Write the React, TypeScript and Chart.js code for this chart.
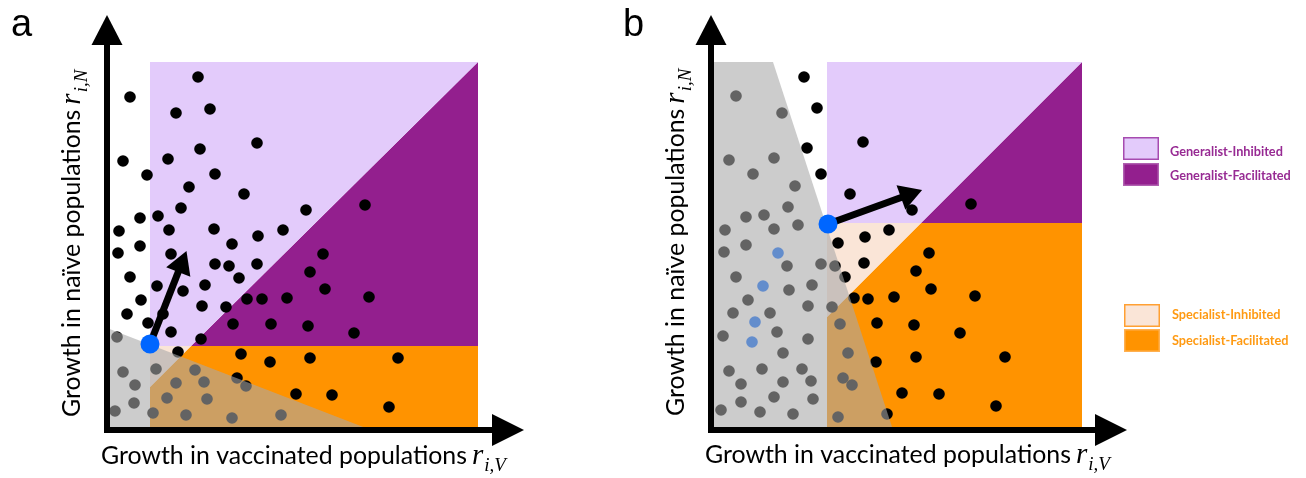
import React, { useEffect, useRef } from "react";
import { Chart, registerables } from "chart.js";

Chart.register(...registerables);

type P = [number, number];

// ---------------- Panel a (arbitrary growth units) ----------------
const A_POINTS: P[] = [
  [91, 353], [23, 333], [103, 321], [69, 317], [150, 287], [93, 281], [16, 269], [61, 271], [40, 255], [108, 256],
  [82, 243], [137, 236], [258, 225], [199, 220], [74, 222], [33, 212], [51, 214], [12, 199], [62, 200], [107, 201],
  [176, 200], [151, 194], [125, 186], [33, 184], [11, 177], [64, 176], [216, 176], [108, 166], [122, 164], [150, 166],
  [203, 158], [132, 152], [23, 153], [218, 141], [50, 144], [76, 139], [98, 145], [262, 133], [140, 131], [155, 131],
  [180, 132], [34, 130], [95, 124], [119, 123], [20, 116], [56, 116], [126, 106], [164, 106], [201, 104], [41, 107],
  [64, 98], [247, 97], [94, 91], [71, 78], [134, 76], [163, 68], [203, 72], [291, 72], [130, 52], [189, 36],
  [225, 35], [282, 23], [10, 93], [16, 58], [28, 45], [49, 61], [88, 60], [69, 47], [97, 48], [139, 44],
  [60, 32], [100, 31], [27, 27], [8, 19], [46, 17], [79, 15], [125, 12], [174, 15],
];
const A_HIGHLIGHT: P[] = [];
const A_FOCAL: P = [43, 86];
const A_ARROW_END: P = [74, 165];
const A_GEN_INHIBITED: P[] = [[43, 368], [371, 368], [84, 84], [43, 84], [43, 368]];
const A_GEN_FACILITATED: P[] = [[371, 368], [371, 84], [84, 84], [371, 368]];
const A_SPEC_INHIBITED: P[] = [[43, 84], [84, 84], [43, 43], [43, 84]];
const A_SPEC_FACILITATED: P[] = [[84, 84], [371, 84], [371, 0], [43, 0], [43, 43], [84, 84]];
const A_EXCLUDED: P[] = [[0, 102], [264, 0], [0, 0], [0, 102]];

// ---------------- Panel b ----------------
const B_POINTS: P[] = [
  [93, 353], [106, 322], [152, 288], [96, 282], [110, 256], [139, 236], [201, 220], [260, 226], [178, 200], [154, 193],
  [127, 187], [218, 177], [153, 167], [134, 153], [205, 159], [220, 141], [264, 134], [143, 132], [157, 131], [183, 133],
  [166, 107], [203, 105], [249, 97], [165, 68], [205, 73], [294, 73], [191, 37], [228, 36], [285, 24], [176, 16],
  [25, 334], [71, 317], [18, 270], [63, 272], [42, 256], [84, 244], [77, 223], [35, 213], [53, 215], [14, 200],
  [63, 201], [87, 205], [13, 178], [35, 185], [76, 164], [110, 166], [124, 164], [25, 153], [78, 140], [101, 145],
  [37, 130], [22, 117], [59, 117], [97, 124], [121, 123], [12, 94], [66, 98], [97, 91], [129, 106], [72, 77],
  [137, 77], [18, 59], [51, 61], [91, 61], [30, 46], [72, 48], [100, 49], [132, 52], [141, 45], [30, 28],
  [63, 33], [102, 31], [10, 20], [49, 18], [82, 16], [127, 13],
];
const B_HIGHLIGHT: P[] = [[67, 177], [52, 144], [44, 108], [41, 88]];
const B_FOCAL: P = [117, 206];
const B_ARROW_END: P = [197, 235];
const B_GEN_INHIBITED: P[] = [[116, 368], [371, 368], [210, 207], [116, 207], [116, 368]];
const B_GEN_FACILITATED: P[] = [[371, 368], [371, 207], [210, 207], [371, 368]];
const B_SPEC_INHIBITED: P[] = [[116, 207], [210, 207], [116, 113], [116, 207]];
const B_SPEC_FACILITATED: P[] = [[210, 207], [371, 207], [371, 0], [116, 0], [116, 113], [210, 207]];
const B_EXCLUDED: P[] = [[0, 368], [62, 368], [182, 0], [0, 0], [0, 368]];

// ---------------- Text ----------------
const LEGEND_LABELS = ["Generalist-Inhibited", "Generalist-Facilitated", "Specialist-Inhibited", "Specialist-Facilitated"];
const X_TITLE = "Growth in vaccinated populations";
const X_SUB = "i,V";
const Y_TITLE = "Growth in na\u00efve populations";
const Y_SUB = "i,N";
const MATH_SYMBOL = "r";

// ---------------- Styles ----------------
const C_GEN_INH = "#E3CBFB";
const C_GEN_FAC = "#931F8E";
const C_SPEC_INH = "#FAE5D7";
const C_SPEC_FAC = "#FF9300";
const C_EXCLUDED = "rgba(168,168,168,0.59)";
const C_BLUE = "#0066FF";
const C_GEN_TEXT = "#972A93";
const C_SPEC_TEXT = "#FF9A12";
const LEGEND_COLORS = [C_GEN_INH, C_GEN_FAC, C_SPEC_INH, C_SPEC_FAC];
const LEGEND_BORDERS = ["#A64BB0", "#B060B0", "#FFA033", "#FFB050"];
const LEGEND_TEXT = [C_GEN_TEXT, C_GEN_TEXT, C_SPEC_TEXT, C_SPEC_TEXT];

type Spec = {
  letter: string;
  points: P[];
  highlight: P[];
  focal: P;
  arrowEnd: P;
  polys: P[][];
  excluded: P[];
  xMax: number;
  padLeft: number;
  padRight: number;
  letterPos: [number, number];
  xTitlePos: [number, number];
  yTitlePos: [number, number];
  legend: boolean;
};

const toXY = (pts: P[]) => pts.map(([x, y]) => ({ x, y }));

function polygon(pts: P[], color: string, order: number, label: string) {
  return {
    type: "line",
    label,
    data: toXY(pts),
    showLine: true,
    fill: "shape",
    backgroundColor: color,
    borderColor: "rgba(0,0,0,0)",
    borderWidth: 0,
    pointRadius: 0,
    tension: 0,
    order,
  };
}

function drawTitle(ctx: CanvasRenderingContext2D, text: string, sub: string, x: number, y: number, rotate: boolean, size: number) {
  ctx.save();
  ctx.translate(x, y);
  if (rotate) ctx.rotate(-Math.PI / 2);
  ctx.fillStyle = "#000";
  ctx.textBaseline = "alphabetic";
  ctx.textAlign = "left";
  ctx.font = `${size}px Lato`;
  ctx.fillText(text, 0, 0);
  let cx = ctx.measureText(text).width + 5;
  ctx.font = `italic 29px "Liberation Serif"`;
  ctx.fillText(MATH_SYMBOL, cx, 0);
  cx += ctx.measureText(MATH_SYMBOL).width + 1;
  ctx.font = `italic 19px "Liberation Serif"`;
  ctx.fillText(sub, cx, 7);
  ctx.restore();
}

function decor(spec: Spec) {
  return {
    id: "decor" + spec.letter,
    afterDraw(chart: any) {
      const { ctx, chartArea: ca, scales } = chart;
      const x0 = scales.x.getPixelForValue(0);
      const y0 = scales.y.getPixelForValue(0);
      ctx.save();
      ctx.fillStyle = "#000";
      // axes
      ctx.fillRect(x0 - 3, ca.top - 2, 6, y0 + 3 - (ca.top - 2));
      ctx.beginPath();
      ctx.moveTo(x0 - 15.5, ca.top);
      ctx.lineTo(x0 + 15.5, ca.top);
      ctx.lineTo(x0, ca.top - 30);
      ctx.closePath();
      ctx.fill();
      ctx.fillRect(x0 - 3, y0 - 3, ca.right + 2 - (x0 - 3), 6);
      ctx.beginPath();
      ctx.moveTo(ca.right, y0 - 16);
      ctx.lineTo(ca.right, y0 + 16);
      ctx.lineTo(ca.right + 32, y0);
      ctx.closePath();
      ctx.fill();

      // panel letter
      ctx.font = `38px "Liberation Sans"`;
      ctx.textBaseline = "alphabetic";
      ctx.fillText(spec.letter, spec.letterPos[0], spec.letterPos[1]);

      // titles: fit x title width
      ctx.font = `22px Lato`;
      const w = ctx.measureText(X_TITLE).width;
      const size = (22 * 366) / w;
      drawTitle(ctx, X_TITLE, X_SUB, spec.xTitlePos[0], spec.xTitlePos[1], false, size);
      drawTitle(ctx, Y_TITLE, Y_SUB, spec.yTitlePos[0], spec.yTitlePos[1], true, size);

      if (spec.legend) {
        ctx.font = `bold 11px Lato`;
        const lw = ctx.measureText(LEGEND_LABELS[1]).width;
        const ls = (11 * 121) / lw;
        const boxY = [137, 163, 304, 329];
        const textY = [152, 176, 315, 341];
        LEGEND_LABELS.forEach((lab, i) => {
          const bx = i < 2 ? 523 : 524;
          ctx.fillStyle = LEGEND_COLORS[i];
          ctx.fillRect(bx, boxY[i], 36, 23);
          ctx.strokeStyle = LEGEND_BORDERS[i];
          ctx.lineWidth = 1.5;
          ctx.strokeRect(bx + 0.75, boxY[i] + 0.75, 34.5, 21.5);
          ctx.fillStyle = LEGEND_TEXT[i];
          ctx.font = `bold ${ls}px Lato`;
          ctx.textBaseline = "middle";
          ctx.fillText(lab, i < 2 ? 570 : 572, textY[i]);
        });
      }
      ctx.restore();
    },
  };
}

function buildConfig(spec: Spec): any {
  const [fx, fy] = spec.focal;
  const [ex, ey] = spec.arrowEnd;
  const rotation = (Math.atan2(ex - fx, ey - fy) * 180) / Math.PI;
  const datasets: any[] = [
    polygon(spec.polys[0], C_GEN_INH, 10, LEGEND_LABELS[0]),
    polygon(spec.polys[1], C_GEN_FAC, 10, LEGEND_LABELS[1]),
    polygon(spec.polys[2], C_SPEC_INH, 10, LEGEND_LABELS[2]),
    polygon(spec.polys[3], C_SPEC_FAC, 10, LEGEND_LABELS[3]),
    {
      type: "line",
      label: "Strains",
      data: toXY(spec.points),
      showLine: false,
      pointRadius: 5.8,
      pointBackgroundColor: "#000",
      pointBorderWidth: 0,
      order: 6,
    },
    {
      type: "line",
      label: "Related strains",
      data: toXY(spec.highlight),
      showLine: false,
      pointRadius: 5.8,
      pointBackgroundColor: C_BLUE,
      pointBorderWidth: 0,
      order: 5,
    },
    polygon(spec.excluded, C_EXCLUDED, 4, "Excluded"),
    {
      type: "line",
      label: "Shift",
      data: toXY([spec.focal, spec.arrowEnd]),
      showLine: true,
      borderColor: "#000",
      borderWidth: 7,
      fill: false,
      pointStyle: "triangle",
      pointRadius: [0, 15],
      pointRotation: [0, rotation],
      pointBackgroundColor: "#000",
      pointBorderWidth: 0,
      order: 2,
    },
    {
      type: "line",
      label: "Focal strain",
      data: toXY([spec.focal]),
      showLine: false,
      pointRadius: 9.5,
      pointBackgroundColor: C_BLUE,
      pointBorderWidth: 0,
      order: 1,
    },
  ];
  return {
    type: "line",
    data: { datasets },
    options: {
      animation: false,
      responsive: false,
      devicePixelRatio: 1,
      events: [],
      layout: { padding: { left: spec.padLeft, right: spec.padRight, top: 45, bottom: 48 } },
      scales: {
        x: { type: "linear", min: 0, max: spec.xMax, display: false },
        y: { type: "linear", min: 0, max: 385, display: false },
      },
      plugins: { legend: { display: false }, tooltip: { enabled: false } },
    },
    plugins: [decor(spec)],
  };
}

const SPEC_A: Spec = {
  letter: "a",
  points: A_POINTS,
  highlight: A_HIGHLIGHT,
  focal: A_FOCAL,
  arrowEnd: A_ARROW_END,
  polys: [A_GEN_INHIBITED, A_GEN_FACILITATED, A_SPEC_INHIBITED, A_SPEC_FACILITATED],
  excluded: A_EXCLUDED,
  xMax: 385,
  padLeft: 107,
  padRight: 108,
  letterPos: [11, 36],
  xTitlePos: [101, 464],
  yTitlePos: [80, 417],
  legend: false,
};

const SPEC_B: Spec = {
  letter: "b",
  points: B_POINTS,
  highlight: B_HIGHLIGHT,
  focal: B_FOCAL,
  arrowEnd: B_ARROW_END,
  polys: [B_GEN_INHIBITED, B_GEN_FACILITATED, B_SPEC_INHIBITED, B_SPEC_FACILITATED],
  excluded: B_EXCLUDED,
  xMax: 384,
  padLeft: 111,
  padRight: 211,
  letterPos: [23, 36],
  xTitlePos: [105, 463],
  yTitlePos: [84, 416],
  legend: true,
};

function Panel({ spec, left, width }: { spec: Spec; left: number; width: number }) {
  const ref = useRef<HTMLCanvasElement>(null);
  useEffect(() => {
    const chart = new Chart(ref.current as HTMLCanvasElement, buildConfig(spec));
    return () => chart.destroy();
  }, [spec]);
  return (
    <canvas
      ref={ref}
      width={width}
      height={478}
      style={{ position: "absolute", left, top: 0, width, height: 478, display: "block" }}
    />
  );
}

export default function App() {
  return (
    <div style={{ position: "absolute", left: 0, top: 0, width: 1306, height: 478, background: "#fff", overflow: "hidden" }}>
      <Panel spec={SPEC_A} left={0} width={600} />
      <Panel spec={SPEC_B} left={600} width={706} />
    </div>
  );
}
